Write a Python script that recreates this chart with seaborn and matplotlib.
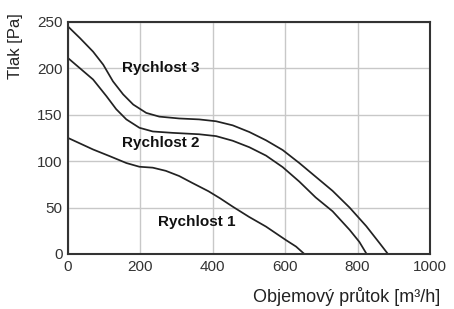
import matplotlib
matplotlib.use('Agg')
import matplotlib.pyplot as plt
import seaborn as sns
import pandas as pd

sns.set_style('white')
plt.rcParams['font.family'] = ['Liberation Sans', 'DejaVu Sans']

# Fan curves: flow [m3/h] vs pressure [Pa]
flow_3 = [0, 33, 69, 97, 124, 152, 180, 216, 252, 307, 362, 409, 455, 501, 547, 593, 639, 685, 731, 778, 824, 861, 884]
pres_3 = [245, 232.5, 218, 204, 186, 172, 161, 152, 148, 146, 145, 143, 138.6, 131.4, 122.5, 112, 98, 83, 68, 50, 30, 11.6, 0]

flow_2 = [0, 33, 69, 106, 133, 161, 197, 234, 289, 362, 409, 455, 501, 547, 593, 639, 684, 731, 778, 805, 825]
pres_2 = [211, 200, 188, 170, 156, 145, 136, 132, 130.5, 129, 127, 122, 115, 106, 93.6, 78, 61, 46, 26, 13, 0]

flow_1 = [0, 69, 115, 161, 197, 234, 270, 307, 343, 388, 420, 455, 500, 547, 602, 630, 653]
pres_1 = [125, 112.6, 105.4, 98, 94, 93, 89.6, 84, 76.6, 67.6, 60, 51, 40, 29.5, 15, 8, 0]

labels = ['Rychlost 3', 'Rychlost 2', 'Rychlost 1']
label_x = [255, 255, 356]
label_y = [200, 120, 34]

x_ticks = [0, 200, 400, 600, 800, 1000]
y_ticks = [0, 50, 100, 150, 200, 250]

df = pd.concat([
    pd.DataFrame({'flow': flow_3, 'pressure': pres_3, 'speed': 'Rychlost 3'}),
    pd.DataFrame({'flow': flow_2, 'pressure': pres_2, 'speed': 'Rychlost 2'}),
    pd.DataFrame({'flow': flow_1, 'pressure': pres_1, 'speed': 'Rychlost 1'}),
])

fig = plt.figure(figsize=(4.54, 3.09), dpi=100)
ax = fig.add_axes([0.150, 0.178, 0.797, 0.751])

sns.lineplot(data=df, x='flow', y='pressure', hue='speed', sort=False,
             palette=['#222222'] * 3, linewidth=1.25, legend=False, ax=ax)

for txt, lx, ly in zip(labels, label_x, label_y):
    ax.text(lx, ly, txt, ha='center', va='center', fontsize=11,
            fontweight='bold', color='#111111')

ax.set_xlim(0, 1000)
ax.set_ylim(0, 250)
ax.set_xticks(x_ticks)
ax.set_yticks(y_ticks)
ax.grid(True, color='#c8c8c8', linewidth=1.0)
ax.tick_params(length=0, labelsize=11, labelcolor='#333333', pad=4)
for s in ax.spines.values():
    s.set_color('#333333')
    s.set_linewidth(1.5)

ax.set_xlabel('')
ax.set_ylabel('Tlak [Pa]', fontsize=12, color='#222222')
ax.yaxis.set_label_coords(-0.124, 0.897)
fig.text(0.97, 0.022, 'Objemový průtok [m³/h]', ha='right', va='baseline',
         fontsize=13, color='#222222')

fig.savefig('out.png', dpi=100)
